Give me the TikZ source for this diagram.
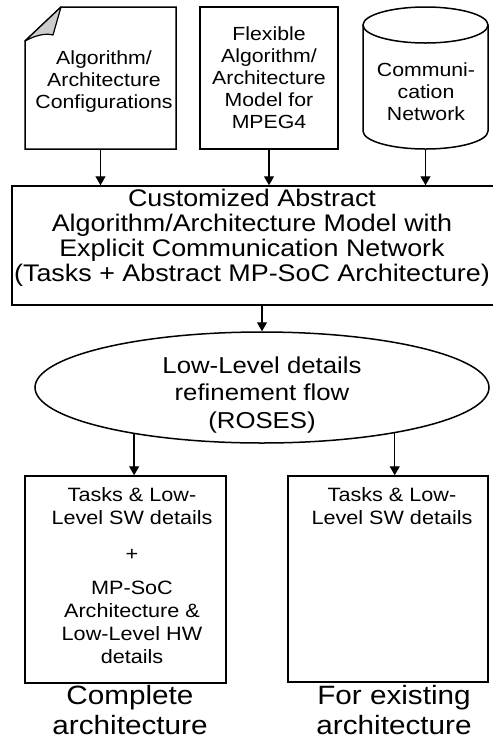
\documentclass[tikz,border=0pt]{standalone}
\usepackage{fontspec}
\setmainfont{Liberation Sans}[FakeStretch=1.12]
\usetikzlibrary{arrows.meta,shapes.geometric,calc}
\newcommand\fsz[2]{\fontsize{#1}{#2}\selectfont}

\begin{document}
\begin{tikzpicture}[x=1pt,y=-1pt,
  box/.style={draw, line width=1.5pt, inner sep=0pt, fill=white},
  ghost/.style={inner sep=0pt, outer sep=0pt},
  arr/.style={-{Triangle[length=9pt,width=10pt]}, line width=1.3pt},
  txt/.style={align=center, inner sep=0pt}]
\useasboundingbox (0,0) rectangle (493,740);

% --- inputs: configuration document, flexible model, communication network
\node[ghost, minimum width=151pt, minimum height=142pt] (doc) at (100.5,78) {};
\coordinate (f1) at ($(doc.north west)+(0,34)$);
\coordinate (f2) at ($(doc.north west)+(36,0)$);
\coordinate (f3) at ($(doc.north west)+(28,28)$);
\draw[line width=1.5pt, fill=white] (f1) -- (f2) -- (doc.north east) -- (doc.south east) -- (doc.south west) -- cycle;
\draw[line width=1.2pt, fill=gray!40, line join=round] (f1) .. controls (36,35) and (46,33) .. (f3) -- (f2) -- cycle;
\node[txt, font=\fsz{19}{22}] at (104,82) {Algorithm/\\Architecture\\Configurations};

\node[box, minimum width=138pt, minimum height=142pt] (flex) at (269,78) {};
\node[txt, font=\fsz{19}{22}] at (269,78) {Flexible\\Algorithm/\\Architecture\\Model for\\MPEG4};

\node[ghost, minimum width=125pt, minimum height=142pt] (net) at (425.5,78) {};
\draw[line width=1.5pt] (363,25) -- (363,131) arc[start angle=180, end angle=360, x radius=62.5pt, y radius=18pt] -- (488,25);
\draw[line width=1.5pt] (425.5,25) ellipse[x radius=62.5pt, y radius=18pt];
\node[txt, font=\fsz{19}{22}] at (426,91.5) {Communi-\\cation\\Network};

% --- customized abstract model
\node[box, minimum width=485pt, minimum height=119pt] (main) at (254.5,245.5) {};
\node[txt, font=\fsz{24}{25}] at (252,238) {Customized Abstract\\Algorithm/Architecture Model with\\Explicit Communication Network\\(Tasks + Abstract MP-SoC Architecture)};

% --- refinement flow
\node[ellipse, draw, line width=1.5pt, fill=white, inner sep=0pt, minimum width=454pt, minimum height=111pt] (flow) at (262,387.5) {};
\node[txt, font=\fsz{23}{27.5}] at (262,395) {Low-Level details\\refinement flow\\(ROSES)};

% --- results
\node[box, minimum width=201pt, minimum height=207pt] (lbox) at (125.5,579.5) {};
\node[txt, font=\fsz{19.3}{23}] at (132,506.5) {Tasks \& Low-\\Level SW details};
\node[txt, font=\fsz{19.3}{23}] at (132,555) {+};
\node[txt, font=\fsz{19.3}{23}] at (132,622) {MP-SoC\\Architecture \&\\Low-Level HW\\details};

\node[box, minimum width=200pt, minimum height=206pt] (rbox) at (388,579) {};
\node[txt, font=\fsz{19.3}{23}] at (392,506.5) {Tasks \& Low-\\Level SW details};

\node[txt, font=\fsz{26.5}{29.5}] at (130,710) {Complete\\architecture};
\node[txt, font=\fsz{26.5}{29.5}] at (394,710) {For existing\\architecture};

% --- connectors
\draw[arr] (doc.south) -- (doc.south |- main.north);
\draw[arr] (flex.south) -- (flex.south |- main.north);
\draw[arr] (net.south) -- (net.south |- main.north);
\draw[arr] (flow.north |- main.south) -- (flow.north);
\draw[arr] (flow.200.6) -- (flow.200.6 |- lbox.north);
\draw[arr] (flow.341.5) -- (flow.341.5 |- rbox.north);
\end{tikzpicture}
\end{document}
